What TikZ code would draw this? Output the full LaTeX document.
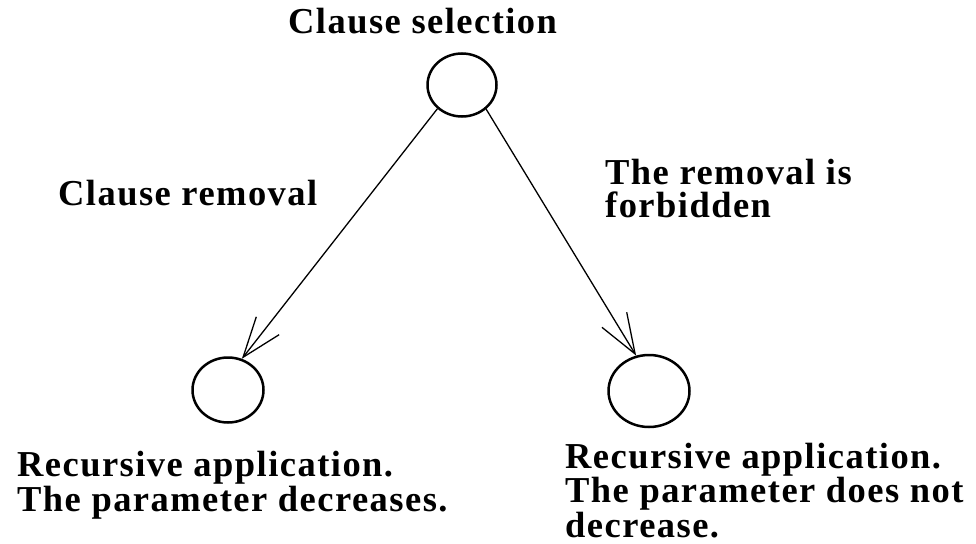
\documentclass[tikz,border=0pt]{standalone}
\usepackage{fontspec}
\newfontfamily\lblfont{Liberation Serif}[LetterSpace=4]
\usetikzlibrary{shapes.geometric,arrows.meta}
\begin{document}
\begin{tikzpicture}[x=1pt,y=-1pt,
  state/.style={draw,ellipse,line width=2.5pt,inner sep=0pt},
  lbl/.style={anchor=base west,inner sep=0pt,align=left,
    font=\lblfont\bfseries\fontsize{36.5}{33}\selectfont},
  conn/.style={line width=1.3pt,-{Straight Barb[length=40pt,width=29pt,line width=1.3pt]}}]
\useasboundingbox (0,0) rectangle (976,543);
\fill[white] (0,0) rectangle (976,543);
\node[state,minimum width=69pt,minimum height=63pt] (top) at (462,85) {};
\node[state,minimum width=71pt,minimum height=65pt] (left) at (228,390) {};
\node[state,minimum width=81pt,minimum height=72pt] (right) at (649,391) {};
\node[lbl] (tsel) at (288,34) {Clause selection};
\node[lbl] (trem) at (58,205) {Clause removal};
\node[lbl] (tforb) at (605,217) {The removal is\\forbidden};
\node[lbl] (tleft) at (17,511) {Recursive application.\\The parameter decreases.};
\node[lbl] (tright) at (565,537) {Recursive application.\\The parameter does not\\decrease.};
\draw[conn] (top.224) -- (left.66);
\draw[conn] (top.315) -- (right.110);
\end{tikzpicture}
\end{document}
